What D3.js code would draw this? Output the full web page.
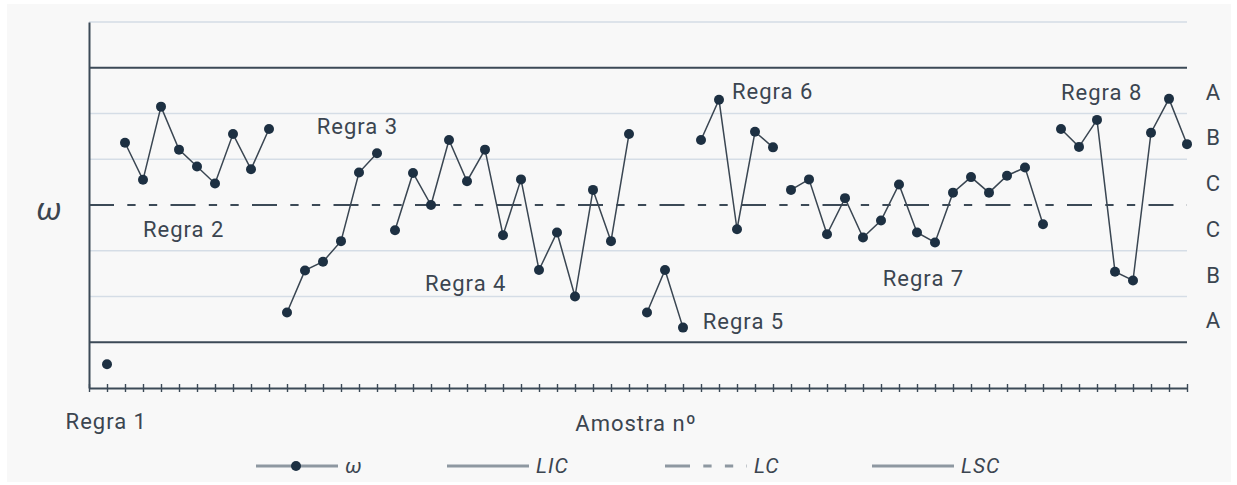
<!DOCTYPE html>
<html>
<head>
<meta charset="utf-8">
<script src="https://cdn.jsdelivr.net/npm/d3@7/dist/d3.min.js"></script>
<style>
  html, body { margin: 0; padding: 0; background: #ffffff; }
  svg { display: block; }
  text { font-family: Roboto, "Noto Sans", sans-serif; }
</style>
</head>
<body>
<svg id="chart" width="1237" height="485"></svg>
<script>
// ---------------- data ----------------
// sample number of each point (1..61)
const samples = d3.range(1, 62);
// omega value (in sigma units) for each sample
const omega = [
  -3.48,
  1.36, 0.55, 2.15, 1.21, 0.84, 0.47, 1.55, 0.78, 1.66,
  -2.35, -1.43, -1.24, -0.79, 0.71, 1.13,
  -0.55, 0.70, 0.00, 1.42, 0.52, 1.21, -0.66, 0.56, -1.42, -0.60, -2.00, 0.33, -0.79, 1.55,
  -2.35, -1.42, -2.68,
  1.42, 2.30, -0.53, 1.60, 1.26,
  0.33, 0.56, -0.64, 0.15, -0.71, -0.34, 0.45, -0.60, -0.82, 0.27, 0.61, 0.27, 0.64, 0.82, -0.42,
  1.66, 1.27, 1.86, -1.46, -1.65, 1.58, 2.32, 1.33
];
// last sample of each connected run
const runEnds = [1, 10, 16, 30, 33, 38, 53, 61];
// rule annotations
const ruleLabels = ["Regra 1", "Regra 2", "Regra 3", "Regra 4", "Regra 5", "Regra 6", "Regra 7", "Regra 8"];
const ruleSample = [-1.3, 3.0, 12.65, 18.67, 34.1, 35.72, 44.1, 54.0];
const ruleValue  = [-4.9, -0.70, 1.55, -1.87, -2.70, 2.31, -1.77, 2.30];
// zone letters, top to bottom
const zoneLabels = ["A", "B", "C", "C", "B", "A"];
const zoneMid = [2.5, 1.5, 0.5, -0.5, -1.5, -2.5];
// horizontal reference lines (sigma)
const lightLines = [4, 2, 1, -1, -2];
const limitLines = [3, -3];        // LSC, LIC
const centerLine = [0];            // LC
const legendLabels = ["ω", "LIC", "LC", "LSC"];

// ---------------- layout ----------------
const svg = d3.select("#chart");
const W = 1237, H = 485;
const plot = { left: 89, right: 1187, top: 22, bottom: 388 };
const ink = "#1d3042";
const textCol = "#3b4550";
const fs = 22, ls = 1;

svg.append("rect").attr("x", 0).attr("y", 0).attr("width", W).attr("height", H).attr("fill", "#ffffff");
svg.append("rect").attr("x", 7).attr("y", 4).attr("width", 1224).attr("height", 478).attr("fill", "#f8f8f8");

const x = d3.scaleLinear().domain([0, 61]).range([plot.left, plot.right]);
const y = d3.scaleLinear().domain([-4, 4]).range([plot.bottom, plot.top]);

const dashPattern = "25,13.3,8.3,13.3,8.3,13.3";

// light grid lines
svg.append("g").selectAll("line").data(lightLines).join("line")
  .attr("x1", x(0)).attr("x2", x(61))
  .attr("y1", d => y(d)).attr("y2", d => y(d))
  .attr("stroke", "#d5dde6").attr("stroke-width", 1.6);

// limit lines
svg.append("g").selectAll("line").data(limitLines).join("line")
  .attr("x1", x(0)).attr("x2", x(61))
  .attr("y1", d => y(d)).attr("y2", d => y(d))
  .attr("stroke", "#3c4a57").attr("stroke-width", 2);

// center line
svg.append("g").selectAll("line").data(centerLine).join("line")
  .attr("x1", x(0)).attr("x2", x(61))
  .attr("y1", d => y(d)).attr("y2", d => y(d))
  .attr("stroke", "#3c4a57").attr("stroke-width", 2)
  .attr("stroke-dasharray", dashPattern);

// axes
const yAxis = svg.append("g").attr("transform", `translate(${plot.left},0)`)
  .call(d3.axisLeft(y).tickValues([]).tickSizeOuter(0));
yAxis.select(".domain").attr("stroke", "#3c4a57").attr("stroke-width", 2);

const xAxis = svg.append("g").attr("transform", `translate(0,${plot.bottom})`)
  .call(d3.axisBottom(x).tickValues(d3.range(0, 62)).tickSize(4).tickSizeOuter(0).tickFormat(""));
xAxis.select(".domain").attr("stroke", "#3c4a57").attr("stroke-width", 2);
xAxis.selectAll(".tick line").attr("y1", -4).attr("y2", 4)
  .attr("stroke", "#3c4a57").attr("stroke-width", 1.4);

// data runs
const pts = samples.map((s, i) => ({ s, v: omega[i] }));
const runs = [];
let start = 0;
runEnds.forEach(e => {
  runs.push(pts.filter(p => p.s > start && p.s <= e));
  start = e;
});
const line = d3.line().x(d => x(d.s)).y(d => y(d.v));
svg.append("g").selectAll("path").data(runs.filter(r => r.length > 1)).join("path")
  .attr("d", line).attr("fill", "none")
  .attr("stroke", "#3a4652").attr("stroke-width", 1.5);
svg.append("g").selectAll("circle").data(pts).join("circle")
  .attr("cx", d => x(d.s)).attr("cy", d => y(d.v)).attr("r", 5)
  .attr("fill", ink);

// rule labels
svg.append("g").selectAll("text").data(ruleLabels).join("text")
  .attr("x", (d, i) => x(ruleSample[i])).attr("y", (d, i) => y(ruleValue[i]))
  .attr("font-size", fs).attr("letter-spacing", ls).attr("fill", textCol).text(d => d);

// zone labels
svg.append("g").selectAll("text").data(zoneLabels).join("text")
  .attr("x", 1213).attr("y", (d, i) => y(zoneMid[i]) + 1.5)
  .attr("text-anchor", "middle").attr("dominant-baseline", "central")
  .attr("font-size", fs).attr("fill", textCol).text(d => d);

// axis titles
svg.append("text").attr("x", 49).attr("y", 209)
  .attr("text-anchor", "middle").attr("dominant-baseline", "central")
  .attr("font-family", "'Liberation Serif', 'DejaVu Serif', serif")
  .attr("font-style", "italic").attr("font-size", 32).attr("fill", textCol).text("ω");
svg.append("text").attr("x", 636).attr("y", 431)
  .attr("text-anchor", "middle").attr("font-size", fs).attr("letter-spacing", ls)
  .attr("fill", textCol).text("Amostra nº");

// legend
const legStarts = [256, 447, 665, 872];
const legLen = 82;
const legY = 466;
const leg = svg.append("g").selectAll("g").data(legendLabels).join("g")
  .attr("transform", (d, i) => `translate(${legStarts[i]},${legY})`);
leg.append("line").attr("x1", 0).attr("x2", legLen).attr("y1", 0).attr("y2", 0)
  .attr("stroke", "#8e98a1").attr("stroke-width", 3)
  .attr("stroke-dasharray", (d, i) => i === 2 ? dashPattern : null);
leg.filter((d, i) => i === 0).append("circle").attr("cx", 40).attr("cy", 0).attr("r", 5).attr("fill", ink);
leg.append("text").attr("x", legLen + 7).attr("y", 0).attr("dominant-baseline", "central")
  .attr("font-style", "italic").attr("font-size", 21).attr("letter-spacing", 1)
  .attr("fill", textCol).text(d => d);
</script>
</body>
</html>
